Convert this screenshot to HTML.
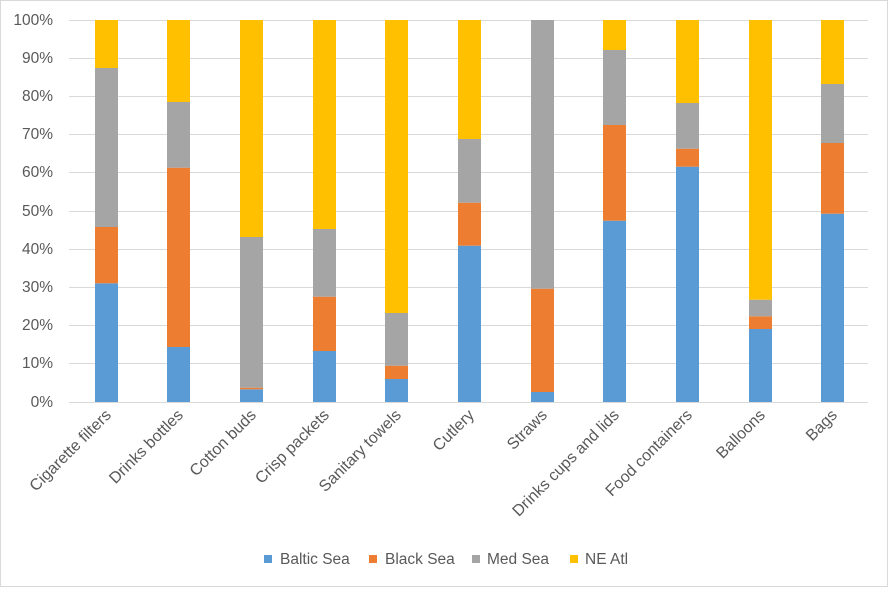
<!DOCTYPE html>
<html><head><style>body{margin:0;background:#fff}</style></head><body>
<svg width="888" height="587" xmlns="http://www.w3.org/2000/svg" font-family="Liberation Sans, sans-serif">
<rect x="0.5" y="0.5" width="887" height="586" fill="#fff" stroke="#d9d9d9"/>
<g stroke="#d9d9d9" stroke-width="1">
<line x1="69" x2="868" y1="20.5" y2="20.5"/><line x1="69" x2="868" y1="58.5" y2="58.5"/><line x1="69" x2="868" y1="96.5" y2="96.5"/><line x1="69" x2="868" y1="134.5" y2="134.5"/><line x1="69" x2="868" y1="172.5" y2="172.5"/><line x1="69" x2="868" y1="211.5" y2="211.5"/><line x1="69" x2="868" y1="249.5" y2="249.5"/><line x1="69" x2="868" y1="287.5" y2="287.5"/><line x1="69" x2="868" y1="325.5" y2="325.5"/><line x1="69" x2="868" y1="363.5" y2="363.5"/><line x1="69" x2="868" y1="402.5" y2="402.5"/>
</g>
<g font-size="15.5" fill="#595959" text-anchor="end">
<text x="53" y="25">100%</text><text x="53" y="63">90%</text><text x="53" y="101">80%</text><text x="53" y="139">70%</text><text x="53" y="177">60%</text><text x="53" y="216">50%</text><text x="53" y="254">40%</text><text x="53" y="292">30%</text><text x="53" y="330">20%</text><text x="53" y="368">10%</text><text x="53" y="407">0%</text>
</g>
<g>
<rect x="95" width="23" y="283.3" height="118.7" fill="#5b9bd5"/><rect x="95" width="23" y="227" height="56.3" fill="#ed7d31"/><rect x="95" width="23" y="68" height="159" fill="#a5a5a5"/><rect x="95" width="23" y="20" height="48" fill="#ffc000"/>
<rect x="167" width="23" y="347" height="55" fill="#5b9bd5"/><rect x="167" width="23" y="167.7" height="179.3" fill="#ed7d31"/><rect x="167" width="23" y="102" height="65.7" fill="#a5a5a5"/><rect x="167" width="23" y="20" height="82" fill="#ffc000"/>
<rect x="240" width="23" y="389.3" height="12.7" fill="#5b9bd5"/><rect x="240" width="23" y="387.7" height="1.6" fill="#ed7d31"/><rect x="240" width="23" y="237" height="150.7" fill="#a5a5a5"/><rect x="240" width="23" y="20" height="217" fill="#ffc000"/>
<rect x="313" width="23" y="351" height="51" fill="#5b9bd5"/><rect x="313" width="23" y="296.7" height="54.3" fill="#ed7d31"/><rect x="313" width="23" y="229" height="67.7" fill="#a5a5a5"/><rect x="313" width="23" y="20" height="209" fill="#ffc000"/>
<rect x="385" width="23" y="379" height="23" fill="#5b9bd5"/><rect x="385" width="23" y="365.7" height="13.3" fill="#ed7d31"/><rect x="385" width="23" y="313" height="52.7" fill="#a5a5a5"/><rect x="385" width="23" y="20" height="293" fill="#ffc000"/>
<rect x="458" width="23" y="245.7" height="156.3" fill="#5b9bd5"/><rect x="458" width="23" y="202.7" height="43" fill="#ed7d31"/><rect x="458" width="23" y="139" height="63.7" fill="#a5a5a5"/><rect x="458" width="23" y="20" height="119" fill="#ffc000"/>
<rect x="531" width="23" y="392" height="10" fill="#5b9bd5"/><rect x="531" width="23" y="288.7" height="103.3" fill="#ed7d31"/><rect x="531" width="23" y="20" height="268.7" fill="#a5a5a5"/>
<rect x="603" width="23" y="220.7" height="181.3" fill="#5b9bd5"/><rect x="603" width="23" y="125" height="95.7" fill="#ed7d31"/><rect x="603" width="23" y="50" height="75" fill="#a5a5a5"/><rect x="603" width="23" y="20" height="30" fill="#ffc000"/>
<rect x="676" width="23" y="166.7" height="235.3" fill="#5b9bd5"/><rect x="676" width="23" y="148.7" height="18" fill="#ed7d31"/><rect x="676" width="23" y="103" height="45.7" fill="#a5a5a5"/><rect x="676" width="23" y="20" height="83" fill="#ffc000"/>
<rect x="749" width="23" y="329" height="73" fill="#5b9bd5"/><rect x="749" width="23" y="316.3" height="12.7" fill="#ed7d31"/><rect x="749" width="23" y="299.7" height="16.6" fill="#a5a5a5"/><rect x="749" width="23" y="20" height="279.7" fill="#ffc000"/>
<rect x="821" width="23" y="213.7" height="188.3" fill="#5b9bd5"/><rect x="821" width="23" y="143" height="70.7" fill="#ed7d31"/><rect x="821" width="23" y="84" height="59" fill="#a5a5a5"/><rect x="821" width="23" y="20" height="64" fill="#ffc000"/>
</g>
<g font-size="16" fill="#595959" text-anchor="end">
<text transform="translate(112,416) rotate(-45)">Cigarette filters</text>
<text transform="translate(184,416) rotate(-45)">Drinks bottles</text>
<text transform="translate(257,416) rotate(-45)">Cotton buds</text>
<text transform="translate(330,416) rotate(-45)">Crisp packets</text>
<text transform="translate(402,416) rotate(-45)">Sanitary towels</text>
<text transform="translate(475,416) rotate(-45)">Cutlery</text>
<text transform="translate(548,416) rotate(-45)">Straws</text>
<text transform="translate(620,416) rotate(-45)">Drinks cups and lids</text>
<text transform="translate(693,416) rotate(-45)">Food containers</text>
<text transform="translate(766,416) rotate(-45)">Balloons</text>
<text transform="translate(838,416) rotate(-45)">Bags</text>
</g>
<g font-size="15.5" fill="#595959">
<rect x="264" y="555" width="8" height="8" fill="#5b9bd5"/><text x="280" y="564">Baltic Sea</text>
<rect x="369" y="555" width="8" height="8" fill="#ed7d31"/><text x="385" y="564">Black Sea</text>
<rect x="472" y="555" width="8" height="8" fill="#a5a5a5"/><text x="487" y="564">Med Sea</text>
<rect x="570" y="555" width="8" height="8" fill="#ffc000"/><text x="585" y="564">NE Atl</text>
</g>
</svg>
</body></html>
